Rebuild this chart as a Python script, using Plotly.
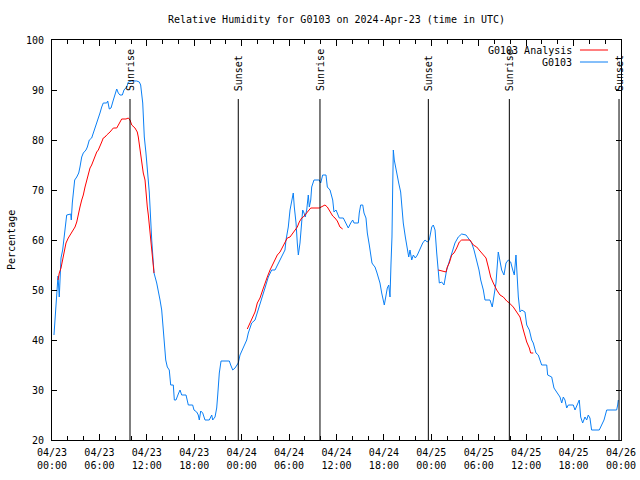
import plotly.graph_objects as go

# Hours since 2024-04-23 00:00 UTC
obs_hours = [0.25, 0.38, 0.51, 0.67, 0.76, 0.92, 1.01, 1.14, 1.35, 1.52, 1.65, 1.86, 2.37, 2.44, 2.57, 2.70,
             2.87, 3.13, 3.38, 3.54, 3.76, 3.96, 4.30, 4.47, 4.72, 5.02, 5.23, 5.44, 5.66, 5.86, 6.07, 6.29,
             6.49, 6.92, 7.05, 7.25, 7.47, 7.76, 7.97, 8.19, 8.39, 8.60, 8.90, 9.11, 9.45, 9.66, 10.09, 10.72,
             11.05, 11.22, 11.48, 11.68, 11.89, 12.06, 12.24, 12.31, 12.62, 12.91, 13.25, 13.45, 13.67, 13.88,
             14.08, 14.21, 14.39, 14.59, 14.84, 15.02, 15.35, 15.48, 15.69, 15.98, 16.20, 16.41, 16.96, 17.25,
             17.80, 17.97, 18.31, 18.51, 18.64, 18.82, 19.07, 19.36, 19.90, 20.21, 20.33, 20.63, 20.84, 20.97,
             21.17, 21.39, 22.44, 22.61, 22.87, 23.16, 23.37, 23.57, 23.79, 24.04, 24.30, 24.64, 24.84, 25.27,
             25.69, 26.10, 26.54, 26.95, 27.37, 27.80, 28.22, 28.64, 29.07, 29.48, 29.61, 29.90, 30.12, 30.33,
             30.53, 30.66, 30.88, 31.04, 31.17, 31.38, 31.51, 31.72, 31.89, 32.05, 32.23, 32.43, 32.56, 32.74,
             32.86, 33.15, 33.82, 34.00, 34.25, 34.67, 34.84, 35.18, 35.52, 35.68, 35.94, 36.10, 36.35, 36.86,
             37.08, 37.49, 37.80, 38.05, 38.21, 38.76, 38.88, 39.06, 39.32, 39.48, 39.73, 39.90, 40.15, 40.33,
             40.49, 40.66, 40.87, 41.09, 41.29, 41.50, 41.72, 41.92, 42.05, 42.23, 42.43, 42.61, 42.77, 42.90,
             43.02, 43.11, 43.19, 43.31, 43.53, 43.69, 43.87, 44.12, 44.29, 44.45, 44.71, 44.96, 45.14, 45.30,
             45.52, 45.72, 45.97, 46.23, 46.57, 46.91, 47.20, 47.49, 47.74, 48.05, 48.25, 48.47, 48.68, 48.88,
             49.01, 49.31, 49.60, 49.94, 50.36, 50.70, 50.99, 51.41, 51.84, 52.39, 52.68, 53.11, 53.40, 53.74,
             54.03, 54.25, 54.58, 54.79, 55.42, 55.71, 55.96, 56.18, 56.47, 56.69, 56.90, 57.19, 57.45, 57.74,
             58.04, 58.30, 58.50, 58.71, 58.88, 59.01, 59.22, 59.44, 59.85, 60.07, 60.40, 60.70, 60.90, 61.24,
             61.53, 61.96, 62.60, 62.72, 63.23, 63.52, 63.94, 64.28, 64.50, 64.70, 64.91, 65.13, 65.33, 65.96,
             66.18, 66.72, 66.90, 67.15, 67.44, 67.66, 67.86, 68.07, 68.28, 69.25, 69.55, 69.85, 70.19, 71.45,
             71.58, 71.66]
obs_rh = [41, 44.4, 48.6, 50.6, 52.8, 48.6, 52.6, 56.4, 58, 60, 62.6, 65, 65.2, 64, 67.4, 70,
          72, 72.6, 73.4, 74.6, 76.6, 77.4, 78, 78.6, 80, 80.4, 81.4, 82, 83.4, 84.2, 85.4, 86.6,
          87.4, 87.4, 87.8, 86.2, 86.4, 88, 89, 90.2, 89.4, 89, 89, 90, 90.6, 91.6, 91.8, 91.8,
          91.6, 91, 87.4, 80.6, 77.4, 74.6, 72, 69.6, 60, 53.4, 51.4, 50, 48, 46,
          42.6, 40, 36, 34.6, 34, 31, 31, 28, 28, 29.2, 30, 29, 29, 27,
          27, 26, 25.6, 25, 24, 25.8, 25.4, 24, 24, 25, 24, 24.6, 26.4, 29,
          33.4, 35.8, 35.8, 35, 34, 34.4, 35, 35.4, 37, 38, 38.8, 40, 41.4, 43.4,
          44, 46, 48, 50.4, 52.6, 54, 54, 55.4, 56.6, 58, 60, 62.6, 66, 68,
          69.4, 66.6, 63.4, 59.4, 57, 59.4, 61.4, 66, 65.4, 64.6, 66, 69, 66.6, 68,
          70.6, 72, 72, 71.4, 73, 73, 70.6, 70, 68, 65.6, 66, 65.4, 64.4, 64.4,
          63.6, 62.4, 63.4, 64, 63.4, 63.4, 65.4, 67, 67, 65.4, 64.4, 61.4, 59, 56.6,
          55.4, 55, 54.6, 53.6, 52.6, 51.4, 49.4, 48, 47, 48.6, 50.4, 51, 48.6, 55.4,
          60.6, 70.6, 78, 76, 74, 72.6, 71.4, 69.6, 66.6, 63.4, 60.6, 58, 56.6, 58,
          56, 57, 56.4, 57, 58.4, 59.4, 60, 59.6, 60, 62.6, 63, 62, 57.4, 54,
          51.4, 51.6, 51, 54, 56, 58, 59.4, 60.6, 61.2, 61, 60.4, 59.4, 58, 56,
          54, 52, 50, 48, 48, 46.6, 49.6, 51.4, 57.6, 56, 54, 53, 55.4, 56,
          55.6, 54, 53, 57, 52, 48.6, 45.6, 46, 45.6, 43, 42, 40, 39.4, 37.4,
          37, 35, 35, 33, 32.6, 30.4, 29.4, 28.6, 27.4, 28.6, 28, 26.4, 27, 27,
          26, 28, 24.6, 23.4, 24.6, 24, 25, 24.4, 22, 22, 23, 24, 26, 26,
          27, 28]

ana1_hours = [0.76, 0.92, 1.14, 1.27, 1.43, 1.77, 2.06, 2.49, 2.91, 3.13, 3.33, 3.54, 3.76, 3.96, 4.18, 4.39,
              4.59, 4.81, 5.02, 5.23, 5.44, 5.66, 5.86, 6.07, 6.29, 6.49, 6.71, 6.92, 7.12, 7.34, 7.55, 7.76,
              8.19, 8.39, 8.60, 8.82, 9.36, 9.66, 9.87, 10.09, 10.50, 10.79, 10.92, 11.14, 11.35, 11.55, 11.77,
              11.89, 12.06, 12.19, 12.40, 12.62, 12.82, 12.91]
ana1_rh = [52, 53.4, 54.4, 55.6, 57, 59.4, 60.4, 61.6, 62.6, 63.6, 65.4, 66.6, 68, 69, 70.6, 72,
           73.4, 74.4, 75, 76, 77, 77.6, 78, 79, 79.6, 80.4, 80.6, 81, 81.4, 81.6, 82, 82.4,
           82.4, 83, 83.6, 84.2, 84.2, 84.4, 84, 83, 82.4, 81.6, 80.6, 78, 75.4, 73.4, 72,
           69.4, 66.6, 65, 62, 58.7, 55.4, 53.4]
ana2_hours = [24.71, 25.05, 25.40, 25.69, 25.98, 26.32, 26.66, 26.95, 27.24, 27.59, 27.93, 28.22, 28.51, 28.85,
              29.19, 29.48, 29.77, 30.12, 30.46, 30.75, 31.04, 31.29, 31.60, 31.80, 32.01, 32.23, 32.43, 32.74,
              33.82, 34.13, 34.54, 34.84, 35.18, 35.52, 35.81, 36.10, 36.44, 36.78]
ana2_rh = [42.2, 43.4, 44.6, 45.6, 47.4, 48.4, 50, 51.4, 52.6, 54, 55, 56, 57, 57.6,
           58.6, 59.6, 60.4, 60.6, 61.4, 62, 62.6, 63.6, 64.4, 64.6, 65, 65.4, 65.6, 66.4,
           66.4, 66.6, 67, 66.6, 65.6, 64.8, 64.4, 63.8, 62.6, 62.2]
ana3_hours = [48.88, 49.31, 49.86, 50.02, 50.27, 50.58, 50.87, 51.21, 51.54, 51.84, 52.89, 53.31, 53.74, 54.16,
              54.58, 54.92, 55.21, 55.51, 55.84, 56.27, 56.69, 57.11, 57.54, 57.87, 58.37, 58.80, 59.22, 59.64,
              60.07, 60.40, 60.57, 60.90]
ana3_rh = [54, 53.8, 53.6, 54.6, 55.4, 57, 57.4, 58.4, 59.6, 60, 60, 59, 58.6, 57.8,
           57, 56.4, 54.6, 52.6, 51.4, 50, 49, 48.6, 47.8, 47.4, 46.6, 45.6, 44.6, 42,
           39.6, 38.4, 37.4, 37.4]

sunrise_hours = [9.87, 33.91, 57.87]
sunset_hours = [23.57, 47.62, 71.75]

tick_hours = [0, 6, 12, 18, 24, 30, 36, 42, 48, 54, 60, 66, 72]
tick_labels = ["04/23<br>00:00", "04/23<br>06:00", "04/23<br>12:00", "04/23<br>18:00",
               "04/24<br>00:00", "04/24<br>06:00", "04/24<br>12:00", "04/24<br>18:00",
               "04/25<br>00:00", "04/25<br>06:00", "04/25<br>12:00", "04/25<br>18:00",
               "04/26<br>00:00"]
y_ticks = [20, 30, 40, 50, 60, 70, 80, 90, 100]

RED = "#ff0000"
BLUE = "#0a7ff5"
FONT = "DejaVu Sans Mono"

ana_x = ana1_hours + [None] + ana2_hours + [None] + ana3_hours
ana_y = ana1_rh + [None] + ana2_rh + [None] + ana3_rh

fig = go.Figure()
fig.add_trace(go.Scatter(x=obs_hours, y=obs_rh, mode="lines", line=dict(color=BLUE, width=1),
                         name="G0103", showlegend=False))
fig.add_trace(go.Scatter(x=ana_x, y=ana_y, mode="lines", line=dict(color=RED, width=1),
                         name="G0103 Analysis", showlegend=False, connectgaps=False))

shapes = []
annotations = []
for h, label in [(v, "Sunrise") for v in sunrise_hours] + [(v, "Sunset") for v in sunset_hours]:
    shapes.append(dict(type="line", xref="x", yref="y", x0=h, x1=h, y0=20, y1=88.2,
                       line=dict(color="black", width=1)))
    annotations.append(dict(x=h, y=89.4, xref="x", yref="y", text=label, textangle=-90,
                            showarrow=False, xanchor="center", yanchor="bottom",
                            font=dict(family=FONT, size=10, color="black")))

# legend (gnuplot style: text then sample)
for yp, label, col in [(0.975, "G0103 Analysis", RED), (0.945, "G0103", BLUE)]:
    annotations.append(dict(x=0.9174, y=yp, xref="paper", yref="paper", text=label,
                            showarrow=False, xanchor="right", yanchor="middle",
                            font=dict(family=FONT, size=10, color="black")))
    shapes.append(dict(type="line", xref="paper", yref="paper", x0=0.9279, x1=0.9772, y0=yp, y1=yp,
                       line=dict(color=col, width=1)))

annotations.append(dict(x=0, y=0.5, xref="paper", yref="paper", text="Percentage", textangle=-90,
                        showarrow=False, xanchor="center", yanchor="middle", xshift=-41,
                        font=dict(family=FONT, size=10, color="black")))

fig.update_layout(
    width=640, height=480,
    margin=dict(l=52, r=19, t=40, b=40, autoexpand=False),
    paper_bgcolor="white", plot_bgcolor="white",
    font=dict(family=FONT, size=10, color="black"),
    title=dict(text="Relative Humidity for G0103 on 2024-Apr-23 (time in UTC)", x=0.5, xref="paper",
               y=1 - 19 / 480, yref="container", yanchor="middle", xanchor="center",
               font=dict(family=FONT, size=10, color="black")),
    shapes=shapes, annotations=annotations, showlegend=False,
)
fig.update_xaxes(range=[0, 72], tickmode="array", tickvals=tick_hours, ticktext=tick_labels,
                 ticks="inside", ticklen=6, tickcolor="black", showgrid=False, zeroline=False,
                 showline=True, linecolor="black", linewidth=1, mirror="ticks", ticklabelstandoff=3,
                 minor=dict(tickmode="linear", tick0=0, dtick=2, ticks="inside", ticklen=4,
                            tickcolor="black", showgrid=False))
fig.update_yaxes(range=[20, 100], tickmode="array", tickvals=y_ticks, ticks="inside", ticklen=5,
                 tickcolor="black", showgrid=False, zeroline=False, showline=True, linecolor="black",
                 linewidth=1, mirror="ticks", ticklabelstandoff=5)

fig.write_html("out.html", config={"displayModeBar": False},
               post_script="document.body.style.margin='0px';")
